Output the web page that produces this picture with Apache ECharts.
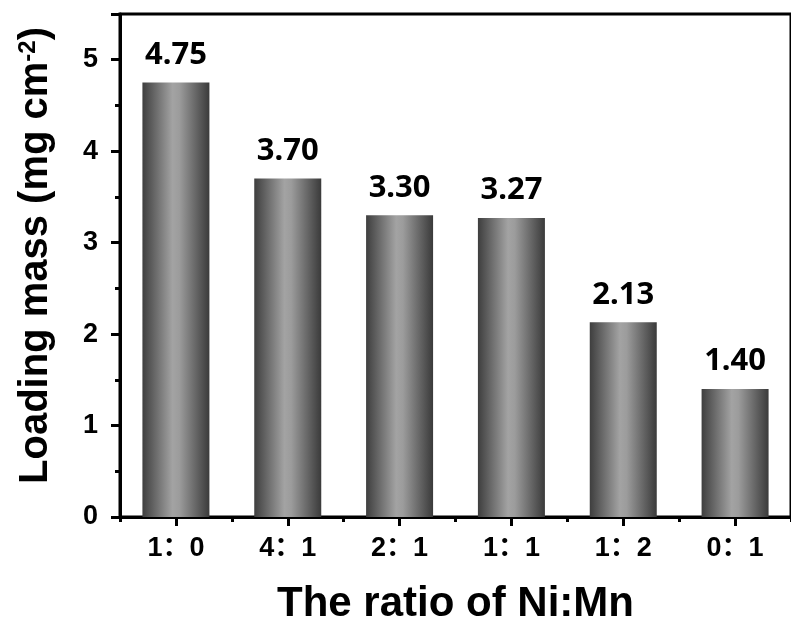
<!DOCTYPE html>
<html>
<head>
<meta charset="utf-8">
<script src="https://cdn.jsdelivr.net/npm/echarts@6/dist/echarts.min.js"></script>
<style>
  html, body { margin: 0; padding: 0; background: #fff; }
  #chart { width: 791px; height: 630px; }
</style>
</head>
<body>
<div id="chart"></div>
<script>
// ratio categories and loading mass values (mg cm-2)
var ratios = ['1：0', '4：1', '2：1', '1：1', '1：2', '0：1'];
var loadingMass = [4.75, 3.70, 3.30, 3.27, 2.13, 1.40];

var fontMain = '"Liberation Sans", Arial, "Noto Sans CJK SC", sans-serif';

var barColor = new echarts.graphic.LinearGradient(0, 0, 1, 0, [
  { offset: 0, color: '#3e3e3e' },
  { offset: 0.45, color: '#a3a3a3' },
  { offset: 0.55, color: '#9c9c9c' },
  { offset: 1, color: '#3a3a3a' }
]);

var chart = echarts.init(document.getElementById('chart'), null, { renderer: 'canvas' });

chart.setOption({
  backgroundColor: '#fff',
  animation: false,
  grid: {
    left: 120, right: -7, top: 14, bottom: 111,
    show: true, borderColor: '#000', borderWidth: 3, backgroundColor: 'transparent'
  },
  xAxis: [
    {
      type: 'category',
      data: ratios,
      position: 'bottom',
      name: 'The ratio of Ni:Mn',
      nameLocation: 'middle',
      nameGap: 66,
      nameTextStyle: { fontFamily: fontMain, fontWeight: 'bold', fontSize: 42, color: '#000' },
      axisLine: { show: true, lineStyle: { color: '#000', width: 3 } },
      axisTick: { show: true, alignWithLabel: true, length: 9, lineStyle: { color: '#000', width: 3 } },
      axisLabel: { margin: 18, fontFamily: fontMain, fontWeight: 'bold', fontSize: 27, color: '#000' },
      splitLine: { show: false }
    },
    {
      // minor ticks between categories
      type: 'category',
      data: ratios,
      position: 'bottom',
      axisLine: { show: false },
      axisTick: { show: true, alignWithLabel: false, length: 5, lineStyle: { color: '#000', width: 3 } },
      axisLabel: { show: false },
      splitLine: { show: false }
    }
  ],
  yAxis: {
    type: 'value',
    min: 0, max: 5.5, interval: 1,
    name: '{a|Loading mass (mg cm}{s|-2}{a|)}',
    nameLocation: 'middle',
    nameGap: 64,
    nameTextStyle: {
      padding: [0, 0, 0, 20],
      rich: {
        a: { fontFamily: fontMain, fontWeight: 'bold', fontSize: 40, color: '#000' },
        s: { fontFamily: fontMain, fontWeight: 'bold', fontSize: 24, color: '#000', verticalAlign: 'top' }
      }
    },
    axisLine: { show: true, lineStyle: { color: '#000', width: 3 } },
    axisTick: { show: true, length: 9, lineStyle: { color: '#000', width: 3 } },
    minorTick: { show: true, splitNumber: 2, length: 5, lineStyle: { color: '#000', width: 3 } },
    axisLabel: {
      margin: 22, fontFamily: fontMain, fontWeight: 'bold', fontSize: 27, color: '#000',
      formatter: function (v) { return Number.isInteger(v) ? String(v) : ''; }
    },
    splitLine: { show: false }
  },
  series: [{
    type: 'bar',
    data: loadingMass,
    barWidth: 67,
    itemStyle: { color: barColor },
    label: {
      show: true,
      position: 'top',
      distance: 12,
      fontFamily: '"Noto Sans", sans-serif',
      fontWeight: 'bold',
      fontSize: 31,
      color: '#000',
      formatter: function (p) { return p.value.toFixed(2); }
    }
  }]
});
</script>
</body>
</html>
